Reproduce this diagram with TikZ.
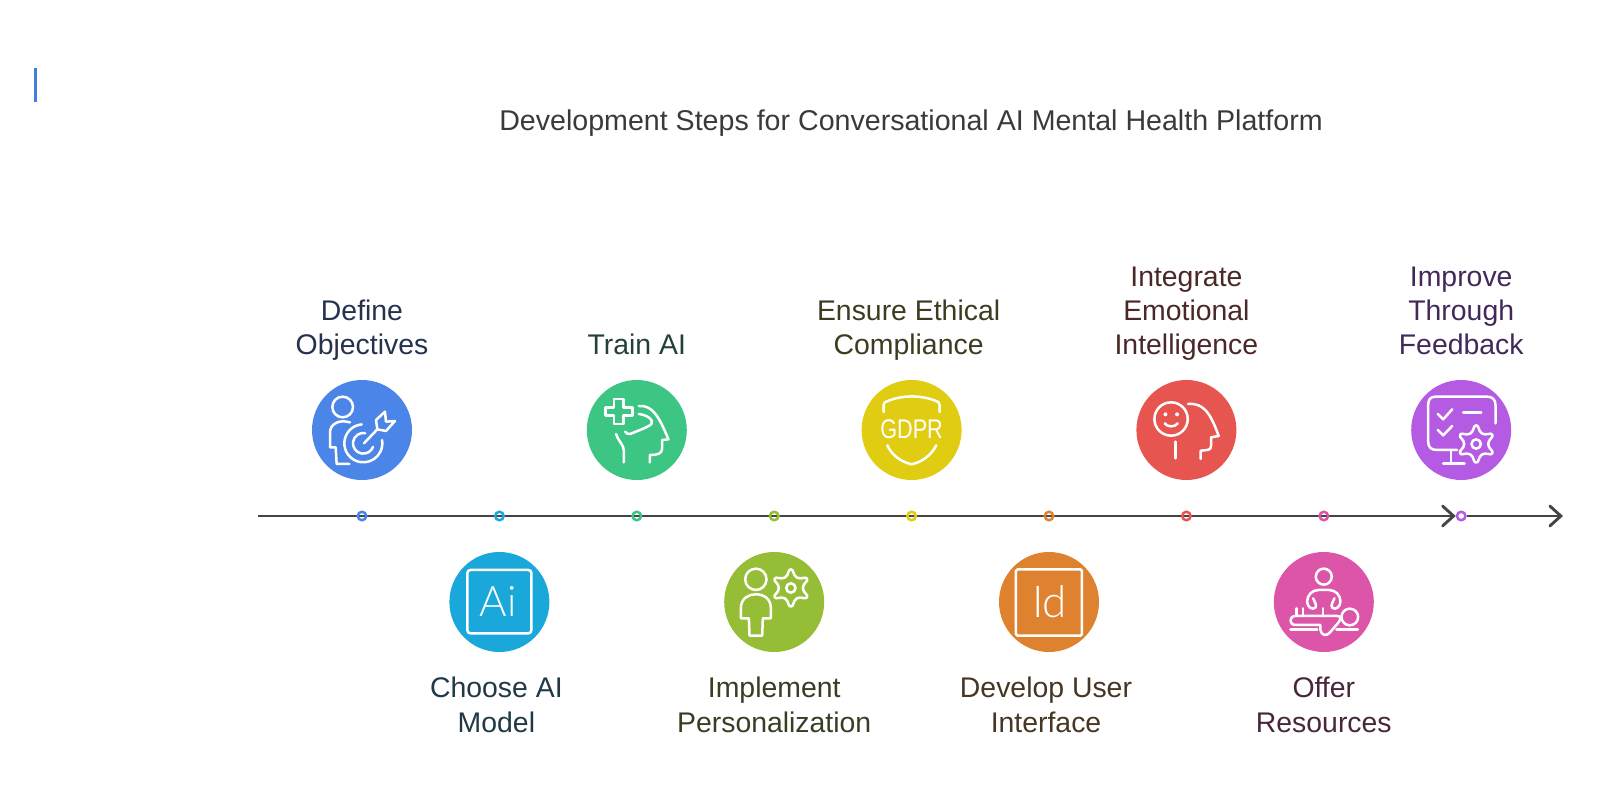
\documentclass[tikz,border=0pt]{standalone}
\usepackage{xcolor}
\usepackage{fontspec}
\setmainfont{Liberation Sans}
\newfontfamily\iconfont{Lato Light}
\usepackage{tikz}
\usetikzlibrary{positioning}
\usetikzlibrary{backgrounds}
\usetikzlibrary{arrows.meta}

\definecolor{blueC}{HTML}{4C85E8}
\definecolor{cyanC}{HTML}{1AA8DA}
\definecolor{greenC}{HTML}{3CC583}
\definecolor{oliveC}{HTML}{95BD36}
\definecolor{yellowC}{HTML}{E0CC10}
\definecolor{orangeC}{HTML}{DE8230}
\definecolor{redC}{HTML}{E65550}
\definecolor{pinkC}{HTML}{DD55A8}
\definecolor{purpleC}{HTML}{B55BE3}
\definecolor{axisC}{HTML}{444444}
\definecolor{barC}{HTML}{3F7FE4}
\definecolor{titleC}{HTML}{3A3A3A}
\definecolor{blueT}{HTML}{25324E}
\definecolor{cyanT}{HTML}{1F3A46}
\definecolor{greenT}{HTML}{25403A}
\definecolor{oliveT}{HTML}{363F24}
\definecolor{yellowT}{HTML}{3E3C20}
\definecolor{orangeT}{HTML}{463623}
\definecolor{redT}{HTML}{4A2828}
\definecolor{pinkT}{HTML}{48273D}
\definecolor{purpleT}{HTML}{43295A}

\tikzset{
  ringdot/.style={circle,draw=#1,line width=2.5pt,minimum size=8.5pt,inner sep=0pt},
  stepdisc/.style={circle,fill=#1,minimum size=100pt,inner sep=0pt},
  steplabel/.style={on grid=false,align=center,inner sep=0pt,text=#1,
    font=\fontsize{28.4}{34.2}\selectfont},
  icon/.style={draw=white,line width=2.5pt,line cap=round,line join=round},
  iconzoom/.style n args={3}{shift={(#1)},xshift=-#2/3*1pt,yshift=#3/3*1pt,
    x=.3333pt,y=-.3333pt},
  axisline/.style={->,draw=axisC,line width=2.9pt},
  gear/.pic={
    \draw[icon] plot[smooth cycle,tension=.95] coordinates {
      (90:56) (60:36) (30:56) (0:36) (-30:56) (-60:36)
      (-90:56) (-120:36) (-150:56) (180:36) (150:56) (120:36)};
    \draw[icon] (0,0) circle[radius=14];
  }
}

\begin{document}
\begin{tikzpicture}[x=1pt,y=-1pt,on grid,node distance=137.4pt,
    >={Straight Barb[length=11pt,width=20pt,line cap=round]}]
   \useasboundingbox (0,0) rectangle (1600,810);

   \coordinate (barTop) at (35.8,68);
   \coordinate (barEnd) at (35.8,102);
   \draw[line width=2.8pt,color=barC] (barTop) -- (barEnd);

   \node[text=titleC,inner sep=0pt,font=\fontsize{28.6}{34}\selectfont] (title) at (911,123.5)
        {Development Steps for Conversational AI Mental Health Platform};

   % dots on the axis
   \coordinate (axisStart) at (258,516);
   \coordinate (axisEnd) at (1563,516);
   \node[ringdot=blueC] (d1) at (362,516) {};
   \node[ringdot=cyanC] (d2) [right=of d1] {};
   \node[ringdot=greenC] (d3) [right=of d2] {};
   \node[ringdot=oliveC] (d4) [right=of d3] {};
   \node[ringdot=yellowC] (d5) [right=of d4] {};
   \node[ringdot=orangeC] (d6) [right=of d5] {};
   \node[ringdot=redC] (d7) [right=of d6] {};
   \node[ringdot=pinkC] (d8) [right=of d7] {};
   \node[ringdot=purpleC,fill=white] (d9) [right=of d8] {};

   \begin{scope}[on background layer]
   \path
    (axisStart) edge[axisline] (d9)
    (d9) edge[axisline] (axisEnd);
   \end{scope}

   % discs
   \node[stepdisc=blueC] (c1) [above=86pt of d1] {};
   \node[stepdisc=cyanC] (c2) [below=86pt of d2] {};
   \node[stepdisc=greenC] (c3) [above=86pt of d3] {};
   \node[stepdisc=oliveC] (c4) [below=86pt of d4] {};
   \node[stepdisc=yellowC] (c5) [above=86pt of d5] {};
   \node[stepdisc=orangeC] (c6) [below=86pt of d6] {};
   \node[stepdisc=redC] (c7) [above=86pt of d7] {};
   \node[stepdisc=pinkC] (c8) [below=86pt of d8] {};
   \node[stepdisc=purpleC] (c9) [above=86pt of d9] {};

   % labels
   \node[steplabel=blueT,text depth=7pt] (t1) [above=18pt of c1] {Define\\Objectives};
   \node[steplabel=cyanT] (t2) [below=25pt of c2,xshift=-3pt] {Choose AI\\Model};
   \node[steplabel=greenT,text depth=7pt] (t3) [above=18pt of c3] {Train AI};
   \node[steplabel=oliveT] (t4) [below=25pt of c4] {Implement\\Personalization};
   \node[steplabel=yellowT,text depth=7pt] (t5) [above=18pt of c5,xshift=-3pt] {Ensure Ethical\\Compliance};
   \node[steplabel=orangeT] (t6) [below=25pt of c6,xshift=-3pt] {Develop User\\Interface};
   \node[steplabel=redT,text depth=7pt] (t7) [above=18pt of c7] {Integrate\\Emotional\\Intelligence};
   \node[steplabel=pinkT] (t8) [below=25pt of c8] {Offer\\Resources};
   \node[steplabel=purpleT,text depth=7pt] (t9) [above=18pt of c9] {Improve\\Through\\Feedback};

   % person with target
   \begin{scope}[iconzoom={c1}{216}{210}]
    \draw[icon] (158,141) circle[radius=31];
    \draw[icon] (180,187) .. controls (165,183) and (150,183) .. (140,188)
       .. controls (125,195) and (120,205) .. (120,220) -- (120,262) -- (137,262) -- (140,312) -- (178,312);
    \draw[icon] (220,250) ++(-95:57) arc[start angle=-95,end angle=-370,radius=57];
    \draw[icon] (220,250) ++(-80:31) arc[start angle=-80,end angle=-340,radius=31];
    \draw[icon] (222,250) -- (262,208) -- (258,180) -- (285,155) -- (288,185) -- (315,183) -- (288,213) -- (262,208);
   \end{scope}

   % Ai
   \begin{scope}[iconzoom={c2}{628}{726}]
    \draw[icon,rounded corners=3pt] (532,630) rectangle (724,820);
    \node[text=white,inner sep=0pt,font=\iconfont\fontsize{42}{42}\selectfont] (aiText) at (624,726) {Ai};
   \end{scope}

   % head with cross
   \begin{scope}[iconzoom={c3}{1040}{210}]
    \draw[icon] (972,117) -- (1000,117) -- (1000,142) -- (1027,142) -- (1027,167) -- (1000,167) -- (1000,192)
       -- (972,192) -- (972,167) -- (946,167) -- (946,142) -- (972,142) -- cycle;
    \draw[icon] (1046,138) .. controls (1085,135) and (1105,165) .. (1135,238) -- (1116,240) -- (1116,265)
       .. controls (1116,280) and (1105,285) .. (1079,285) -- (1079,307);
    \draw[icon] (1046,162) .. controls (1070,165) and (1090,178) .. (1085,190)
       .. controls (1082,198) and (1050,210) .. (1020,222) .. controls (1014,223) and (1008,220) .. (1005,215);
    \draw[icon] (978,222) .. controls (985,245) and (1001,255) .. (1001,270) -- (1001,307);
   \end{scope}

   % person with gear
   \begin{scope}[iconzoom={c4}{222}{726}]
    \draw[icon] (167,658) circle[radius=32];
    \draw[icon] (122,775) -- (122,745) .. controls (122,715) and (145,703) .. (167,703)
       .. controls (190,703) and (212,715) .. (212,745) -- (212,775) -- (188,775) -- (186,827) -- (148,827) -- (146,775) -- cycle;
    \path (272,684) pic {gear};
   \end{scope}

   % shield
   \begin{scope}[iconzoom={c5}{634}{210}]
    \draw[icon] (550,156) -- (550,135) .. controls (550,128) and (555,126) .. (565,122)
       .. controls (610,105) and (660,105) .. (705,122) .. controls (715,126) and (718,128) .. (718,135) -- (718,156);
    \draw[icon] (561,256) .. controls (575,285) and (600,305) .. (634,313) .. controls (668,305) and (693,285) .. (708,256);
    \node[text=white,inner sep=0pt,font=\fontsize{27}{27}\selectfont,xscale=.8,transform shape] (gdprText) at (634,207) {GDPR};
   \end{scope}

   % Id
   \begin{scope}[iconzoom={c6}{1046}{726}]
    \draw[icon,rounded corners=1.5pt] (947,628) rectangle (1145,827);
    \node[text=white,inner sep=0pt,font=\iconfont\fontsize{44}{44}\selectfont] (idText) at (1048,726) {Id};
   \end{scope}

   % head with face
   \begin{scope}[iconzoom={c7}{198}{210}]
    \draw[icon] (152,177) circle[radius=50];
    \fill[white] (135,163) circle[radius=6] (170,163) circle[radius=6];
    \draw[icon] (133,190) .. controls (140,202) and (165,202) .. (172,190);
    \draw[icon] (203,132) .. controls (250,128) and (270,160) .. (295,228) -- (272,232) -- (272,258)
       .. controls (272,272) and (258,270) .. (241,272) -- (241,297);
    \draw[icon] (165,245) -- (165,295);
   \end{scope}

   % massage
   \begin{scope}[iconzoom={c8}{610}{726}]
    \draw[icon] (610,650) circle[radius=24];
    \draw[icon] (578,715) .. controls (582,725) and (590,735) .. (585,743) .. controls (575,752) and (560,740) .. (560,725)
       .. controls (560,705) and (575,690) .. (595,690) -- (625,690) .. controls (645,690) and (660,705) .. (660,725)
       .. controls (660,740) and (645,752) .. (635,743) .. controls (630,735) and (638,725) .. (642,715);
    \draw[icon] (607,745) -- (607,768) (528,745) -- (528,768) (547,745) -- (547,768);
    \draw[icon] (650,768) -- (525,768) .. controls (505,768) and (505,795) .. (525,795) -- (600,795) -- (600,810)
       .. controls (602,826) and (618,830) .. (628,818) -- (652,790) .. controls (665,775) and (660,768) .. (650,768);
    \draw[icon] (688,771) circle[radius=25];
    \draw[icon] (510,808) -- (590,808) (648,808) -- (712,808);
   \end{scope}

   % monitor with gear
   \begin{scope}[iconzoom={c9}{1022}{210}]
    \draw[icon] (1125,190) -- (1125,135) .. controls (1125,118) and (1115,110) .. (1100,110) -- (945,110)
       .. controls (930,110) and (923,118) .. (923,135) -- (923,245) .. controls (923,262) and (932,270) .. (950,270) -- (1010,270);
    \draw[icon] (992,272) -- (992,310) (968,310) -- (1032,310);
    \draw[icon] (952,162) -- (968,178) -- (995,148) (952,210) -- (968,226) -- (995,198);
    \draw[icon] (1028,158) -- (1082,158);
    \path (1067,252) pic {gear};
   \end{scope}
\end{tikzpicture}
\end{document}
